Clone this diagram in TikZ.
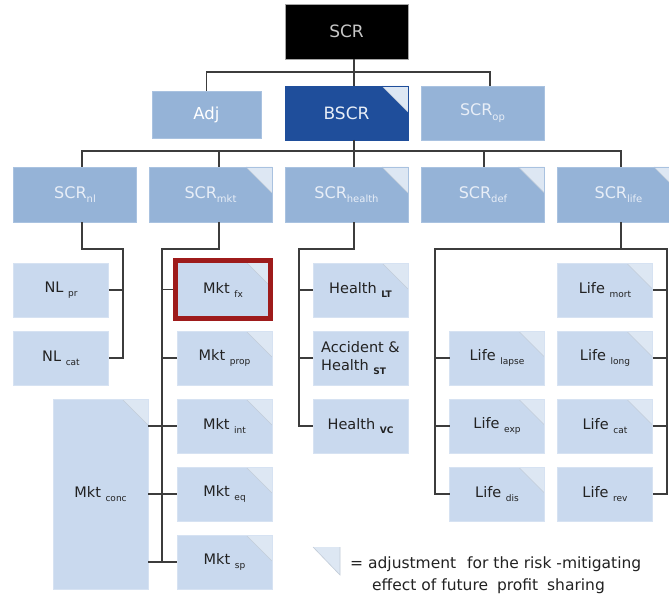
\documentclass[tikz,border=0pt]{standalone}
\usepackage{fontspec}
\setmainfont{DejaVu Sans}
\usetikzlibrary{calc}
\definecolor{lvtwo}{HTML}{95B3D7}
\definecolor{lvtwoedge}{HTML}{A9C2E0}
\definecolor{lvtwotext}{HTML}{E8EEF7}
\definecolor{lvthree}{HTML}{C9D9EE}
\definecolor{lvthreeedge}{HTML}{D6E2F2}
\definecolor{flagc}{HTML}{DDE7F3}
\definecolor{flagline}{HTML}{C2CCD8}
\definecolor{bscrc}{HTML}{1F4E9B}
\definecolor{redc}{HTML}{9E1B1B}
\definecolor{connc}{HTML}{3C3C3C}
\definecolor{txt}{HTML}{222222}
\newcommand{\subtwo}[1]{\raisebox{-4.5pt}{\fontsize{10}{11}\selectfont #1}}
\newcommand{\subthree}[1]{\raisebox{-4pt}{\fontsize{9}{10}\selectfont #1}}
\begin{document}
\begin{tikzpicture}[x=1pt,y=-1pt,
  box/.style={rectangle, inner sep=0pt, outer sep=0pt, align=center},
  topbox/.style={box, fill=black, draw=gray!70, line width=0.8pt, text=black!22,
    font=\fontsize{17}{19}\selectfont, minimum width=123pt, minimum height=55pt},
  lvtwobox/.style={box, fill=lvtwo, draw=lvtwoedge, line width=0.6pt, text=lvtwotext,
    font=\fontsize{16}{19}\selectfont, minimum width=123pt, minimum height=55pt},
  lvthreebox/.style={box, fill=lvthree, draw=lvthreeedge, line width=0.6pt, text=txt,
    font=\fontsize{14.5}{18}\selectfont, minimum width=95pt, minimum height=54pt},
  flag/.style={path picture={
    \fill[flagc] (path picture bounding box.north east) -- ++(-26pt,0pt) -- ++(26pt,-26pt) -- cycle;
    \draw[flagline, line width=0.5pt] (path picture bounding box.north east) ++(-26pt,0pt) -- ++(26pt,-26pt);}},
  conn/.style={draw=connc, line width=1.8pt},
  legendline/.style={anchor=base west, text=txt, font=\fontsize{15.5}{19}\selectfont, inner sep=0pt}
]
\fill[white] (0,0) rectangle (669,596);
\useasboundingbox (0,0) rectangle (669,596);

% level 0 / 1
\node[topbox] (scr) at (346.5,31.5) {SCR};
\node[lvtwobox, minimum width=109pt, minimum height=47pt, text=white, font=\fontsize{16.5}{19}\selectfont] (adj) at (206.5,114.5) {Adj};
\node[lvtwobox, fill=bscrc, draw=bscrc, text=lvtwotext, flag, minimum height=54pt, font=\fontsize{17}{19}\selectfont] (bscr) at (346.5,113) {BSCR};
\node[lvtwobox, minimum height=54pt] (op) at (482.5,113) {SCR\subtwo{op}};

% level 2
\node[lvtwobox] (nl) at (75,194.5) {SCR\subtwo{nl}};
\node[lvtwobox, flag] (mkt) at (210.5,194.5) {SCR\subtwo{mkt}};
\node[lvtwobox, flag] (health) at (346.5,194.5) {SCR\subtwo{health}};
\node[lvtwobox, flag] (def) at (483,194.5) {SCR\subtwo{def}};
\node[lvtwobox, flag] (life) at (618.5,194.5) {SCR\subtwo{life}};

% level 3: non-life
\node[lvthreebox] (nlpr) at (61,290) {NL \subthree{pr}};
\node[lvthreebox] (nlcat) at (61,358) {NL \subthree{cat}};

% level 3: market
\node[lvthreebox, flag, draw=redc, line width=5pt, outer sep=2.5pt, minimum height=58pt] (mktfx) at (223,289.5) {Mkt \subthree{fx}};
\node[lvthreebox, flag] (mktprop) at (224.5,358) {Mkt \subthree{prop}};
\node[lvthreebox, flag] (mktint) at (224.5,426) {Mkt \subthree{int}};
\node[lvthreebox, flag] (mkteq) at (224.5,494) {Mkt \subthree{eq}};
\node[lvthreebox, flag] (mktsp) at (224.5,562) {Mkt \subthree{sp}};
\node[lvthreebox, flag, minimum height=190pt] (mktconc) at (100.5,494) {Mkt \subthree{conc}};

% level 3: health
\node[lvthreebox, flag] (hlt) at (360.5,290) {Health \subthree{\bfseries LT}};
\node[lvthreebox, align=left] (hacc) at (360.5,358) {Accident \&\\Health \subthree{\bfseries ST}};
\node[lvthreebox] (hvc) at (360.5,426) {Health \subthree{\bfseries VC}};

% level 3: life
\node[lvthreebox, flag] (llapse) at (497,358) {Life \subthree{lapse}};
\node[lvthreebox, flag] (lexp) at (497,426) {Life \subthree{exp}};
\node[lvthreebox, flag] (ldis) at (497,494) {Life \subthree{dis}};
\node[lvthreebox, flag] (lmort) at (605,290) {Life \subthree{mort}};
\node[lvthreebox, flag] (llong) at (605,358) {Life \subthree{long}};
\node[lvthreebox, flag] (lcat) at (605,426) {Life \subthree{cat}};
\node[lvthreebox] (lrev) at (605,494) {Life \subthree{rev}};

% connectors level 0-1
\coordinate (busA) at (354,72);
\draw[conn] (scr.south -| busA) -- (bscr.north -| busA);
\draw[conn] (adj.north) |- (busA) -| (op.north -| 490,0);

% connectors level 1-2
\coordinate (busB) at (354,151);
\draw[conn] (bscr.south -| busB) -- (busB);
\draw[conn] (nl.north -| 82,0) |- (busB) -| (life.north -| 621,0);
\draw[conn] (mkt.north -| 219,0) -- (219,151);
\draw[conn] (health.north -| busB) -- (busB);
\draw[conn] (def.north -| 484,0) -- (484,151);

% non-life
\draw[conn] (nl.south -| 82,0) |- (123,249) |- (nlcat.east);
\draw[conn] (nlpr.east) -- (nlpr.east -| 123,0);

% market
\draw[conn] (mkt.south -| 219,0) |- (162,249) |- (mktsp.west);
\draw[conn] (mktfx.west) -- (mktfx.west -| 162,0);
\draw[conn] (mktprop.west) -- (mktprop.west -| 162,0);
\draw[conn] (mktconc.east |- mktint.west) -- (mktint.west);
\draw[conn] (mktconc.east |- mkteq.west) -- (mkteq.west);
\draw[conn] (mktconc.east |- mktsp.west) -- (mktsp.west);

% health
\draw[conn] (health.south -| 354,0) |- (299,249) |- (hvc.west);
\draw[conn] (hlt.west) -- (hlt.west -| 299,0);
\draw[conn] (hacc.west) -- (hacc.west -| 299,0);

% life
\draw[conn] (life.south -| 621,0) -- (621,249);
\draw[conn] (ldis.west) -| (435,249) -- (667,249) |- (lrev.east);
\draw[conn] (llapse.west) -- (llapse.west -| 435,0);
\draw[conn] (lexp.west) -- (lexp.west -| 435,0);
\draw[conn] (lmort.east) -- (lmort.east -| 667,0);
\draw[conn] (llong.east) -- (llong.east -| 667,0);
\draw[conn] (lcat.east) -- (lcat.east -| 667,0);

% legend
\fill[flagc] (313,547) -- (340,547) -- (340,575) -- cycle;
\draw[flagline, line width=0.6pt] (313,547) -- (340,575) -- (340,547);
\node[legendline] (legendA) at (350,568)
  {= adjustment\hspace{6pt} for the risk -mitigating};
\node[legendline] (legendB) at (372,590)
  {effect of future\hspace{4pt} profit\hspace{4pt} sharing};
\end{tikzpicture}
\end{document}
